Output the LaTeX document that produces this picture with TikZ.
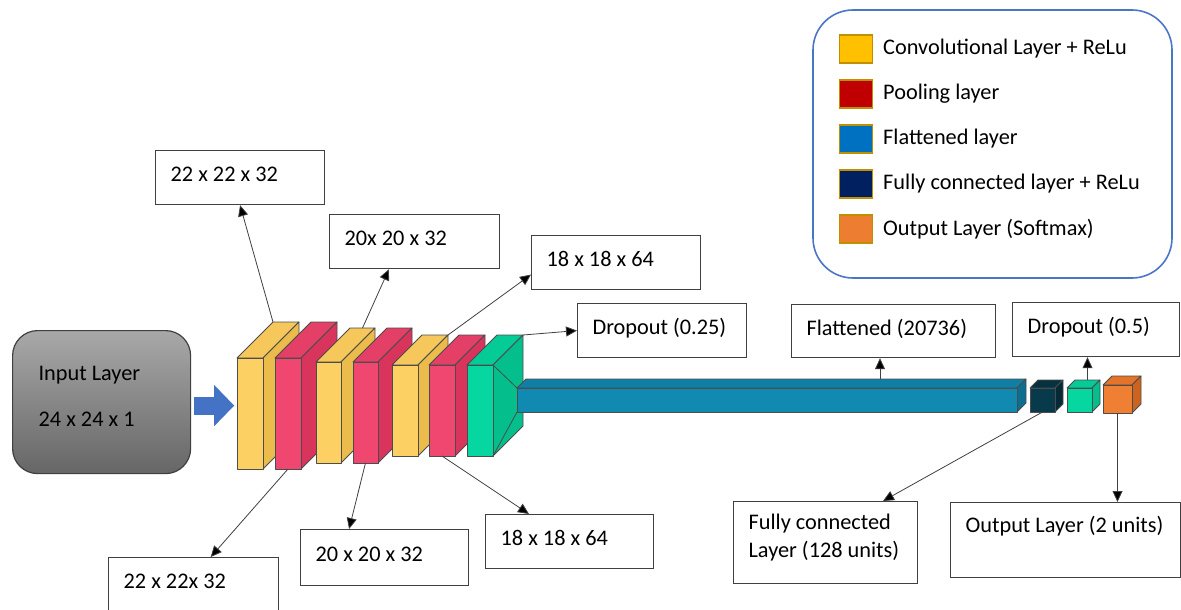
\documentclass[tikz,border=0pt]{standalone}
\usepackage{fontspec}
\setmainfont{Carlito}
\usetikzlibrary{arrows.meta,calc,positioning}

% layer colours: F front, T top, S side
\definecolor{convF}{HTML}{FDD063}
\definecolor{convT}{HTML}{F6C75A}
\definecolor{convS}{HTML}{EBBB4C}
\definecolor{poolF}{HTML}{EF476F}
\definecolor{poolT}{HTML}{E43F67}
\definecolor{poolS}{HTML}{D9345C}
\definecolor{dropF}{HTML}{06D6A0}
\definecolor{dropT}{HTML}{05CB97}
\definecolor{dropS}{HTML}{04BE8C}
\definecolor{flatF}{HTML}{118AB2}
\definecolor{flatT}{HTML}{0F7FA5}
\definecolor{flatS}{HTML}{0C6F91}
\definecolor{denseF}{HTML}{073B4C}
\definecolor{denseT}{HTML}{06323F}
\definecolor{denseS}{HTML}{052A36}
\definecolor{softF}{HTML}{EF7F33}
\definecolor{softT}{HTML}{E3742A}
\definecolor{softS}{HTML}{CC6420}
% legend colours
\definecolor{legConv}{HTML}{FFC000}
\definecolor{legPool}{HTML}{C00000}
\definecolor{legFlat}{HTML}{0070C0}
\definecolor{legDense}{HTML}{002060}
\definecolor{legSoft}{HTML}{ED7D31}
\definecolor{legEdge}{HTML}{BF9000}
\definecolor{legFrame}{HTML}{4A76C6}
\definecolor{arrBlue}{HTML}{4472C4}

% 3d layer block: name, x, y (front top), width, height, depth, colour prefix
\newcommand{\layerblock}[7]{%
  \filldraw[fill=#7T, blockedge] (#2,#3) -- ++(#6,-#6) -- ++(#4,0) -- ++(-#6,#6) -- cycle;
  \filldraw[fill=#7S, blockedge] (#2+#4,#3) -- ++(#6,-#6) -- ++(0,#5) -- ++(-#6,#6) -- cycle;
  \filldraw[fill=#7F, blockedge] (#2,#3) rectangle ++(#4,#5);
  \coordinate (#1-bl) at (#2+#6,#3-#6);
  \coordinate (#1-br) at (#2+#4+#6,#3-#6);
  \coordinate (#1-fb) at (#2+#4/2,#3+#5);
}

\begin{document}
\begin{tikzpicture}[
    x=1pt, y=-1pt,
    font=\fontsize{22.3}{28}\selectfont,
    blockedge/.style={draw=black!70, line width=0.8, line join=round},
    lbl/.style={draw=black!75, line width=1.2, fill=white, anchor=north west, align=left,
        inner xsep=15, inner ysep=0, text height=16, text depth=8, minimum height=54,
        execute at begin node={\spaceskip=0pt\xspaceskip=0pt\relax}},
    inbox/.style={draw=black!75, line width=1.2, rounded corners=25, top color=black!34,
        bottom color=black!60, anchor=north west, minimum height=143, align=left,
        text width=126, inner xsep=26, inner ysep=0, text height=16, text depth=60,
        execute at begin node={\spaceskip=0pt\xspaceskip=0pt\relax}},
    conn/.style={draw=black!75, line width=0.8, -{Triangle[length=11pt, width=10pt, fill=black]}},
    swatch/.style={draw=legEdge, line width=1.5, minimum width=33, minimum height=28, inner sep=0pt},
]
\useasboundingbox (0,0) rectangle (1181,610);

% ---- input ----
\node[inbox] (inp) at (12,330) {Input Layer\\[18pt]24 x 24 x 1};
\draw[arrBlue, line width=18, -{Triangle[length=20pt, width=40pt]}]
    ($(inp.east)+(3,3.5)$) -- ++(40,0);

% ---- conv / pool stack ----
\layerblock{c1}{237}{358}{26}{111}{36}{conv}
\layerblock{p1}{275}{358}{26}{111}{36}{pool}
\layerblock{c2}{316}{362}{25}{101}{34}{conv}
\layerblock{p2}{353}{362}{25}{101}{34}{pool}
\layerblock{c3}{392}{365}{26}{91}{30}{conv}
\layerblock{p3}{429}{365}{26}{91}{30}{pool}
\layerblock{g1}{467}{365}{26}{91}{30}{drop}
\draw[blockedge] (493,365) -- (517,388) (493,456) -- (517,412);

% ---- flatten / dense / output ----
\layerblock{fl}{517}{388}{500}{24}{9}{flat}
\layerblock{fc}{1030}{388}{25}{24}{8}{dense}
\layerblock{g2}{1067}{388}{25}{24}{8}{drop}
\layerblock{oc}{1103}{385}{29}{28}{9}{soft}

% ---- shape labels ----
\node[lbl, text width=139] (t1) at (155,150) {22 x 22 x 32};
\node[lbl, text width=140] (t2) at (329,214) {20x 20 x 32};
\node[lbl, text width=139] (t3) at (531,235) {18 x 18 x 64};
\node[lbl, text width=139] (dr1) at (577,303) {Dropout (0.25)};
\node[lbl, text width=174, minimum height=53] (flt) at (791,304) {Flattened (20736)};
\node[lbl, text width=137] (dr2) at (1012,302) {Dropout (0.5)};
\node[lbl, text width=154, minimum height=82, text depth=42] (fcl) at (733,501) {Fully connected\\Layer (128 units)};
\node[lbl, text width=200, minimum height=75, text depth=31] (outl) at (950,502) {Output Layer (2 units)};
\node[lbl, text width=140] (b1) at (108,557) {22 x 22x 32};
\node[lbl, text width=138, minimum height=56] (b2) at (300,529) {20 x 20 x 32};
\node[lbl, text width=138] (b3) at (485,514) {18 x 18 x 64};

% ---- connectors ----
\draw[conn] (c1-bl) -- (t1.south);
\draw[conn] ($(c2-bl)!0.5!(c2-br)$) -- ($(t2.south west)!0.35!(t2.south east)$);
\draw[conn] (c3-br) -- (t3.188);
\draw[conn] (g1-br) -- (dr1.west);
\draw[conn] (p1-fb) -- ($(b1.north west)!0.6!(b1.north east)$);
\draw[conn] (p2-fb) -- ($(b2.north west)!0.29!(b2.north east)$);
\draw[conn] (p3-fb) -- ($(b3.north west)!0.26!(b3.north east)$);
\coordinate (flpt) at ($(fl-bl)!0.708!(fl-br)$);
\draw[conn] (flpt) -- (flpt |- flt.south);
\coordinate (g2pt) at ($(g2-bl)!0.5!(g2-br)$);
\draw[conn] (g2pt) -- (g2pt |- dr2.south);
\draw[conn] (fc-fb) -- ($(fcl.north west)!0.81!(fcl.north east)$);
\draw[conn] (oc-fb) -- (oc-fb |- outl.north);

% ---- legend ----
\draw[legFrame, line width=1.6, rounded corners=40] (813,10) rectangle (1172,278);
\foreach \col/\txt [count=\i] in {legConv/Convolutional Layer + ReLu, legPool/Pooling layer,
    legFlat/Flattened layer, legDense/Fully connected layer + ReLu, legSoft/Output Layer (Softmax)} {
    \node[swatch, fill=\col] (sw\i) at (856,4+45*\i) {};
    \node[anchor=west, inner sep=0pt] (lt\i) at (883,4+45*\i) {\txt};
}
\end{tikzpicture}
\end{document}
